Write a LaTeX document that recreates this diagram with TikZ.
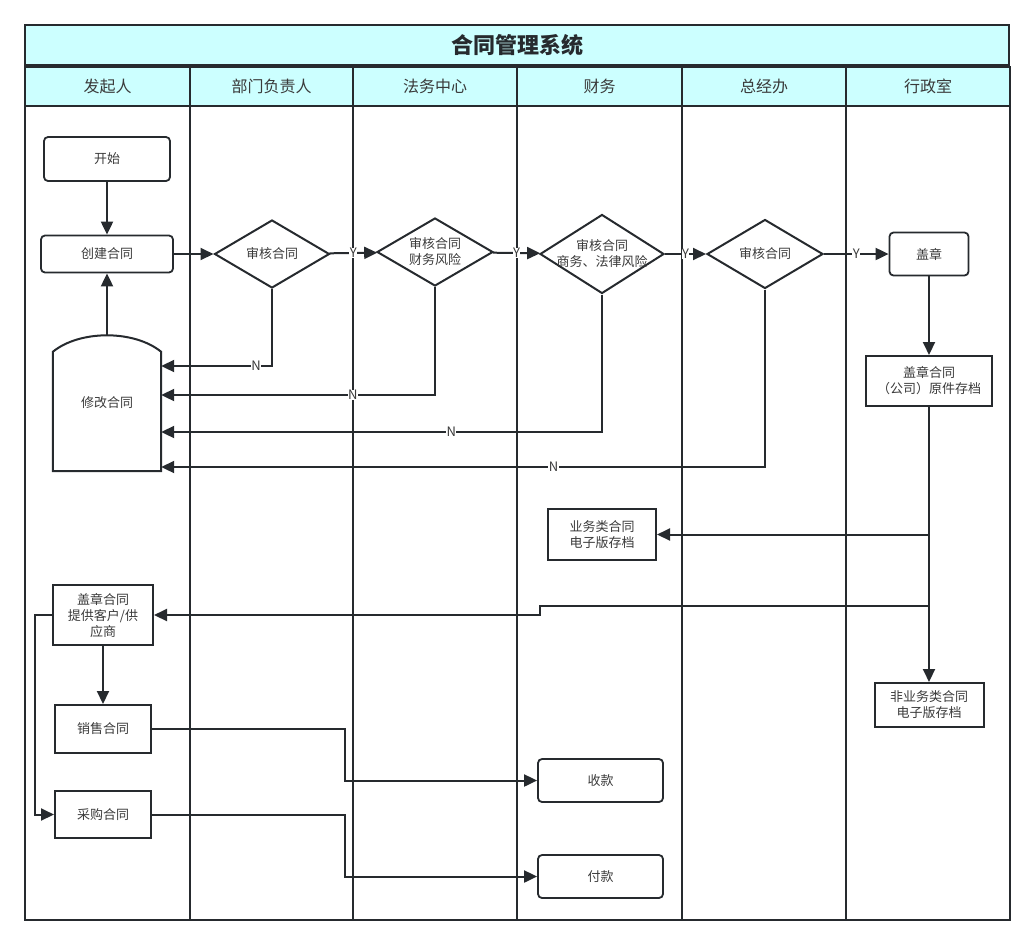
\documentclass[tikz,border=0pt]{standalone}
\usepackage{fontspec}
\setmainfont{Noto Sans CJK SC}
\usetikzlibrary{shapes.geometric, arrows.meta, calc}
\definecolor{linec}{HTML}{262A2E}
\definecolor{txtc}{HTML}{3A3A3A}
\definecolor{headc}{HTML}{CCFFFF}
\newcommand{\nfont}{\fontsize{13}{16}\selectfont}

\begin{document}
\begin{tikzpicture}[x=1pt, y=-1pt, >={Triangle[length=13pt, width=12pt]},
    lane/.style={draw=linec, line width=2.8pt},
    head/.style={draw=linec, line width=2.8pt, fill=headc, text=txtc, font=\fontsize{16}{19}\selectfont, minimum height=39pt, inner sep=0pt},
    proc/.style={draw=linec, line width=1.8pt, rounded corners=4pt, text=txtc, font=\nfont, align=center, inner sep=0pt},
    box/.style={draw=linec, line width=2pt, text=txtc, font=\nfont, align=center, inner sep=0pt},
    decide/.style={diamond, draw=linec, line width=2pt, inner sep=0pt},
    dtext/.style={text=txtc, font=\nfont, align=center, inner sep=0pt},
    flow/.style={draw=linec, line width=2pt, ->},
    tag/.style={fill=white, text=txtc, font=\nfont, inner sep=0.5pt}]
    \useasboundingbox (0,0) rectangle (1035,946);

    % Title and lanes
    \node[head, minimum width=984pt, minimum height=40pt, font=\fontsize{22}{26}\selectfont\bfseries, text=linec] (title) at (517,45) {合同管理系统};
    \foreach \i/\name/\xa/\xb in {1/发起人/25/190, 2/部门负责人/190/353, 3/法务中心/353/517, 4/财务/517/682, 5/总经办/682/846, 6/行政室/846/1010} {
        \draw[lane] (\xa,106) rectangle (\xb,920);
        \node[head, minimum width=\xb-\xa] (h\i) at ({(\xa+\xb)/2},86.5) {\name};
    }

    % Nodes
    \node[proc, minimum width=126pt, minimum height=44pt] (start) at (107,159) {开始};
    \node[proc, minimum width=132pt, minimum height=37pt] (create) at (107,254) {创建合同};
    \node[minimum width=108pt, minimum height=136pt, inner sep=0pt, text=txtc, font=\nfont] (modify) at (107,403) {修改合同};
    \node[decide, minimum width=115pt, minimum height=68pt] (d1) at (272,254) {};
    \node[dtext] (d1t) at (d1) {审核合同};
    \node[decide, minimum width=116pt, minimum height=68pt] (d2) at (435,252) {};
    \node[dtext] (d2t) at (d2) {审核合同\\财务风险};
    \node[decide, minimum width=124pt, minimum height=79pt] (d3) at (602,254) {};
    \node[dtext] (d3t) at (d3) {审核合同\\商务、法律风险};
    \node[decide, minimum width=116pt, minimum height=69pt] (d4) at (765,254) {};
    \node[dtext] (d4t) at (d4) {审核合同};
    \node[proc, minimum width=79pt, minimum height=43pt] (stamp) at (929,254) {盖章};
    \node[box, minimum width=126pt, minimum height=50pt] (archive) at (929,381) {盖章合同\\（公司）原件存档};
    \node[box, minimum width=108pt, minimum height=51pt] (biz) at (602,534.5) {业务类合同\\电子版存档};
    \node[box, minimum width=109pt, minimum height=44pt] (nonbiz) at (929,705) {非业务类合同\\电子版存档};
    \node[box, minimum width=100pt, minimum height=60pt] (offer) at (103,615) {盖章合同\\提供客户/供\\应商};
    \node[box, minimum width=96pt, minimum height=48pt] (sale) at (103,729) {销售合同};
    \node[box, minimum width=96pt, minimum height=47pt] (purchase) at (103,814.5) {采购合同};
    \node[proc, minimum width=125pt, minimum height=43pt] (recv) at (600.5,780.5) {收款};
    \node[proc, minimum width=125pt, minimum height=43pt] (pay) at (600.5,876.5) {付款};

    % Arched outline of the modify step
    \draw[linec, line width=2pt] (modify.south west) -- ($(modify.north west)+(0,17)$)
        .. controls ($(modify.north west)+(27,-5)$) and ($(modify.north east)+(-27,-5)$) .. ($(modify.north east)+(0,17)$)
        -- (modify.south east) -- cycle;

    % Approval chain
    \draw[flow] (start) -- (create);
    \draw[flow] (modify.north) -- (create);
    \draw[flow] (create) -- (d1);
    \draw[flow] (d1) -- (d2) node[tag, midway] {Y};
    \draw[flow] (d2) -- (d3) node[tag, midway] {Y};
    \draw[flow] (d3) -- (d4) node[tag, midway] {Y};
    \draw[flow] (d4) -- (stamp) node[tag, midway] {Y};

    % Rejections back to modify
    \draw[flow] (d1.south) |- (modify.east |- 0,366) node[tag, pos=0.572] {N};
    \draw[flow] (d2.south) |- (modify.east |- 0,395) node[tag, pos=0.65] {N};
    \draw[flow] (d3.south) |- (modify.east |- 0,432) node[tag, pos=0.671] {N};
    \draw[flow] (d4.south) |- (modify.east |- 0,467) node[tag, pos=0.675] {N};

    % Archiving
    \draw[flow] (stamp) -- (archive);
    \draw[flow] (archive.south) -- (nonbiz.north);
    \draw[flow] (archive.south |- biz.east) -- (biz.east);
    \draw[flow] (archive.south |- 0,606) -- (540,606) |- (offer.east);

    % Contracts and payments
    \draw[flow] (offer) -- (sale);
    \draw[flow] (offer.west) -- ++(-17,0) |- (purchase);
    \draw[flow] (sale.east) -- ++(193,0) |- (recv);
    \draw[flow] (purchase.east) -- ++(193,0) |- (pay);
\end{tikzpicture}
\end{document}
